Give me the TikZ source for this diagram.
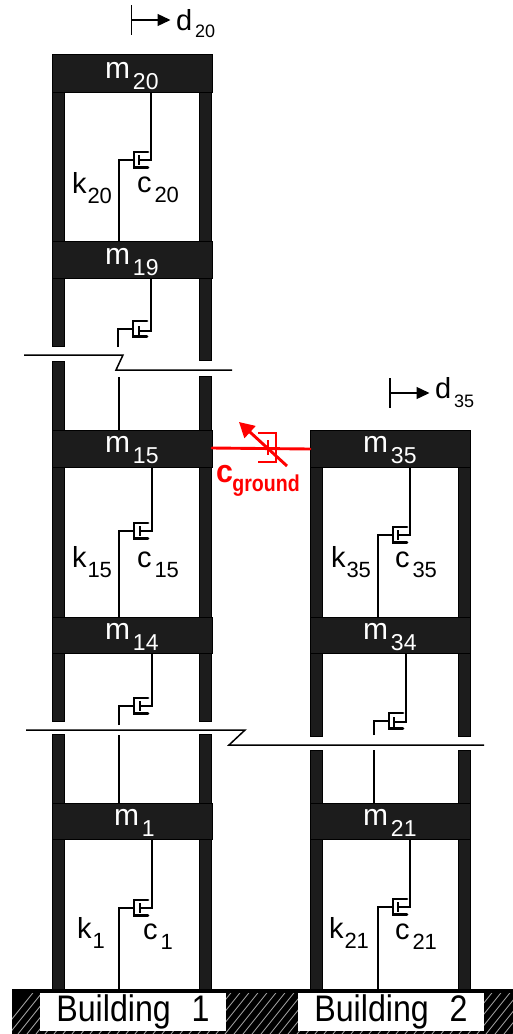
\documentclass[tikz,border=0pt]{standalone}
\usepackage{fontspec}
\setmainfont{Liberation Sans}
\usetikzlibrary{arrows.meta}
\definecolor{blk}{HTML}{1C1C1C}
\definecolor{redd}{HTML}{FF0000}
\tikzset{
 x=1pt,y=-1pt,
 massbox/.style={draw=black,line width=.7pt,fill=blk,inner sep=0pt,outer sep=0pt,minimum width=160pt,anchor=north west},
 colbox/.style={draw=black,line width=.7pt,fill=blk,inner sep=0pt,outer sep=0pt,minimum width=12.5pt,anchor=north west},
 conn/.style={line width=2.1pt,black,line join=miter},
 cyl/.style={line width=2.8pt,black,line cap=round},
 brk/.style={line width=1.5pt,black},
 lab/.style={inner sep=0pt,outer sep=0pt,anchor=base west,font=\fontsize{30}{30}\selectfont},
 blab/.style={draw=none,fill=white,inner sep=0pt,outer sep=0pt,minimum width=186pt,minimum height=38pt},
 redl/.style={line width=2.9pt,redd},
 tip/.style={-{Triangle[length=13pt,width=12pt]},line width=1.3pt,black},
}
% name, x, top, bottom
\newcommand{\masnode}[4]{\pgfmathsetmacro{\hh}{#4-#3}\node[massbox,minimum height=\hh pt] (#1) at (#2,#3) {};}
\newcommand{\colnode}[4]{\pgfmathsetmacro{\hh}{#4-#3}\node[colbox,minimum height=\hh pt] (#1) at (#2,#3) {};}
% id, x right, x left, y right, y left, top node, bottom target
\newcommand{\dmp}[7]{%
 \coordinate (#1r) at (#2,#4);
 \coordinate (#1l) at (#3,#5);
 \coordinate (#1p) at (#2-12,#4);
 \coordinate (#1c) at (#3+15,#5);
 \draw[conn] (#6.south -| #1r) -- (#1r) -- (#1p);
 \draw[conn,line width=1.8pt] ([yshift=5pt]#1p) -- ([yshift=-5pt]#1p);
 \draw[conn] (#7 -| #1l) -- (#1l) -- (#1c);
 \draw[cyl] ([xshift=14pt,yshift=8pt]#1c) -- ([yshift=8pt]#1c) -- ([yshift=-7.5pt]#1c) -- ([xshift=14pt,yshift=-7.5pt]#1c);
}
% name,x,base,main,sub,unused,colour
\newcommand{\lb}[7]{\node[lab,text=#7] (#1) at (#2,#3) {#4\hspace{3pt}\raisebox{-11pt}{\fontsize{23}{23}\selectfont #5}};}
\newcommand{\lbs}[6]{\node[lab] (#1) at (#2,#3) {\fontsize{29}{29}\selectfont #4\hspace{#6}\raisebox{-10pt}{\fontsize{22}{22}\selectfont #5}};}
\begin{document}
\begin{tikzpicture}
\useasboundingbox (0,0) rectangle (513,1034);
% ground
\begin{scope}
\clip (12,989) rectangle (513,1034);
\fill[black] (12,989) rectangle (513,1034);
\foreach \i in {0,9,...,560}{\draw[gray!65,line width=.8pt] (\i,1034) -- (\i+36,989);}
\fill[black] (12,988) rectangle (513,993);
\end{scope}
\node[blab] (b1) at (133,1012) {\fontsize{37}{37}\selectfont\scalebox{.87}[1]{Building\hspace{24pt}1}};
\node[blab] (b2) at (391,1012) {\fontsize{37}{37}\selectfont\scalebox{.87}[1]{Building\hspace{24pt}2}};
% building 1 columns
\colnode{c1}{52}{92}{241}\colnode{c2}{199}{92}{241}
\colnode{c3}{52}{278}{346}\colnode{c4}{199}{278}{360}
\colnode{c5}{52}{361}{430}\colnode{c6}{199}{376}{430}
\colnode{c7}{52}{467}{617}\colnode{c8}{199}{467}{617}
\colnode{c9}{52}{653}{721}\colnode{c10}{199}{653}{721}
\colnode{c11}{52}{734}{803}\colnode{c12}{199}{734}{803}
\colnode{c13}{52}{839}{989}\colnode{c14}{199}{839}{989}
% building 2 columns
\colnode{e1}{310}{467}{617}\colnode{e2}{458}{467}{617}
\colnode{e3}{310}{653}{736}\colnode{e4}{458}{653}{736}
\colnode{e5}{310}{750}{803}\colnode{e6}{458}{750}{803}
\colnode{e7}{310}{839}{989}\colnode{e8}{458}{839}{989}
% masses
\masnode{m20}{52}{54}{92}\masnode{m19}{52}{241}{278}
\masnode{m15}{52}{430}{467}\masnode{m14}{52}{617}{653}
\masnode{m1}{52}{803}{839}
\masnode{m35}{310}{430}{467}\masnode{m34}{310}{617}{653}
\masnode{m21}{310}{803}{839}
% free stem ends
\coordinate (s19) at (118,347);\coordinate (s14) at (119,725);\coordinate (s34) at (374,735);
\coordinate (u15) at (119,377);\coordinate (u1) at (119,735);\coordinate (u21) at (374,750);
\coordinate (g1) at (119,989);\coordinate (g2) at (378,989);
% dampers
\dmp{a}{151}{119}{160}{160}{m20}{m19.north}
\dmp{b}{151}{118}{331}{329}{m19}{s19}
\dmp{f}{152}{119}{531}{531}{m15}{m14.north}
\dmp{h}{152}{119}{706}{706}{m14}{s14}
\dmp{j}{152}{119}{908}{908}{m1}{g1}
\dmp{p}{410}{378}{535}{535}{m35}{m34.north}
\dmp{q}{406}{374}{722}{721}{m34}{s34}
\dmp{r}{410}{378}{907}{907}{m21}{g2}
\draw[conn] (u15) -- (u15 |- m15.north);
\draw[conn] (u1) -- (u1 |- m1.north);
\draw[conn] (u21) -- (u21 |- m21.north);
% break lines
\coordinate (k1) at (24,355);\coordinate (k2) at (123,355);\coordinate (k3) at (116,370);\coordinate (k4) at (232,370);
\draw[brk] (k1) -- (k2) -- (k3) -- (k4);
\coordinate (k5) at (26,730);\coordinate (k6) at (245,730);\coordinate (k7) at (229,745);\coordinate (k8) at (484,745);
\draw[brk] (k5) -- (k6) -- (k7) -- (k8);
% mass labels
\lb{t20}{105}{78}{m}{20}{}{white}
\lb{t19}{105}{264}{m}{19}{}{white}
\lb{t15}{105}{452}{m}{15}{}{white}
\lb{t14}{105}{639}{m}{14}{}{white}
\lb{t1}{114}{825}{m}{1}{}{white}
\lb{t35}{363}{452}{m}{35}{}{white}
\lb{t34}{363}{639}{m}{34}{}{white}
\lb{t21}{363}{825}{m}{21}{}{white}
% k, c labels
\lbs{ka}{72}{193}{k}{20}{1pt}
\lbs{ca}{137}{192}{c}{20}{3pt}
\lbs{kb}{72}{567}{k}{15}{1pt}
\lbs{cb}{137}{567}{c}{15}{3pt}
\lbs{kc}{331}{567}{k}{35}{1pt}
\lbs{cc}{395}{567}{c}{35}{3pt}
\lbs{kd}{77}{938}{k}{1}{1pt}
\lbs{cd}{143}{939}{c}{1}{3pt}
\lbs{ke}{329}{938}{k}{21}{1pt}
\lbs{ce}{395}{939}{c}{21}{3pt}
% displacement
\node[lab,font=\fontsize{29}{29}\selectfont] (d20) at (176,30) {d\hspace{3pt}\raisebox{-7pt}{\fontsize{18}{18}\selectfont 20}};
\node[lab,font=\fontsize{29}{29}\selectfont] (d35) at (435,398) {d\hspace{3pt}\raisebox{-9pt}{\fontsize{18}{18}\selectfont 35}};
\coordinate (da) at (131.5,20);\coordinate (db) at (390,393);
\draw[line width=1.3pt] (131.5,5) -- (131.5,35);
\draw[line width=1.3pt] (390,378) -- (390,408);
\draw[tip] (da) -- ([xshift=-5.5pt]d20.base west |- da);
\draw[tip] (db) -- ([xshift=-5.5pt]d35.base west |- db);
% red damper
\coordinate (ra) at (258,433);\coordinate (rb) at (276,433);\coordinate (rc) at (276,462);\coordinate (rd) at (258,462);
\draw[redl,line cap=round] (m15.east |- 0,448) -- (m35.west |- 0,449);
\draw[redl] (ra) -- (rb) -- (rc) -- (rd);
\draw[redl] (268,440) -- (268,455);
\coordinate (re) at (287,466);\coordinate (rf) at (239,422);
\draw[redl,-{Triangle[length=15pt,width=16pt]}] (re) -- (rf);
\node[lab,text=redd] (cg) at (216,482) {\bfseries\fontsize{32}{32}\selectfont\scalebox{.95}[1]{c}\hspace{-.5pt}\raisebox{-9pt}{\fontsize{23}{23}\selectfont\scalebox{.85}[1]{ground}}};
\end{tikzpicture}
\end{document}
